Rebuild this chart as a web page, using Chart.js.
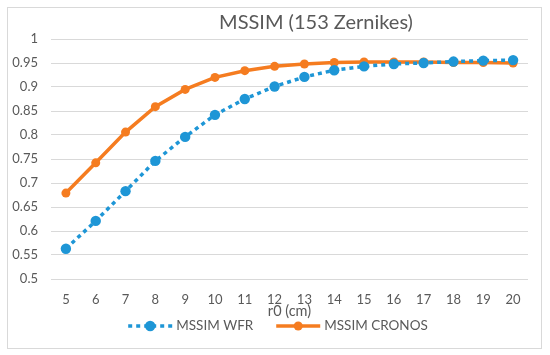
<!DOCTYPE html>
<html>
<head>
<meta charset="utf-8">
<script src="https://cdn.jsdelivr.net/npm/chart.js@4"></script>
<style>
  html, body { margin: 0; padding: 0; background: #ffffff; }
  #wrap { width: 550px; height: 355px; position: relative; }
</style>
</head>
<body>
<div id="wrap"><canvas id="c" width="550" height="355"></canvas></div>
<script>
const titleText = 'MSSIM (153 Zernikes)';
const xTitle = 'r0 (cm)';
const categories = [5, 6, 7, 8, 9, 10, 11, 12, 13, 14, 15, 16, 17, 18, 19, 20];
const seriesNames = ['MSSIM WFR', 'MSSIM CRONOS'];
const wfrValues = [0.563, 0.621, 0.683, 0.746, 0.796, 0.842, 0.875, 0.901, 0.921, 0.935, 0.943, 0.948, 0.950, 0.953, 0.955, 0.956];
const cronosValues = [0.679, 0.742, 0.806, 0.859, 0.895, 0.920, 0.934, 0.943, 0.948, 0.951, 0.952, 0.952, 0.952, 0.951, 0.951, 0.950];
const yTickLabels = ['0.5', '0.55', '0.6', '0.65', '0.7', '0.75', '0.8', '0.85', '0.9', '0.95', '1'];

const BLUE = '#1E96D6';
const ORANGE = '#F57C20';
const TEXT = '#595959';
const GRID = '#D9D9D9';
const FONT = 'Lato, "Open Sans", "DejaVu Sans", sans-serif';

const frameAndText = {
  id: 'frameAndText',
  beforeDraw(chart) {
    const ctx = chart.ctx;
    ctx.save();
    ctx.strokeStyle = GRID;
    ctx.lineWidth = 1;
    ctx.strokeRect(7.5, 7.5, 534, 341);
    ctx.restore();
  },
  afterDraw(chart) {
    const ctx = chart.ctx;
    ctx.save();
    // title
    ctx.fillStyle = TEXT;
    ctx.font = '20px ' + FONT;
    ctx.textAlign = 'center';
    ctx.textBaseline = 'middle';
    ctx.fillText(titleText, 316, 23);
    // legend
    ctx.font = '13.5px ' + FONT;
    ctx.textAlign = 'left';
    const sample = 44, gapText = 4, gapItems = 23;
    const ds = chart.data.datasets;
    const widths = ds.map(d => ctx.measureText(d.label).width);
    let total = 0;
    widths.forEach((w, i) => { total += sample + gapText + w + (i ? gapItems : 0); });
    let x = 278 - total / 2;
    const y = 326;
    ds.forEach((d, i) => {
      ctx.save();
      ctx.strokeStyle = d.borderColor;
      ctx.lineWidth = d.borderWidth;
      ctx.setLineDash(d.borderDash || []);
      ctx.lineCap = 'butt';
      ctx.beginPath();
      ctx.moveTo(x, y);
      ctx.lineTo(x + sample, y);
      ctx.stroke();
      ctx.setLineDash([]);
      ctx.fillStyle = d.pointBackgroundColor;
      ctx.beginPath();
      ctx.arc(x + sample / 2, y, d.pointRadius, 0, Math.PI * 2);
      ctx.fill();
      ctx.restore();
      ctx.fillStyle = TEXT;
      ctx.fillText(d.label, x + sample + gapText, y);
      x += sample + gapText + widths[i] + gapItems;
    });
    ctx.restore();
  }
};

new Chart(document.getElementById('c'), {
  type: 'line',
  data: {
    labels: categories,
    datasets: [
      {
        label: seriesNames[0],
        data: wfrValues,
        borderColor: BLUE,
        backgroundColor: BLUE,
        pointBackgroundColor: BLUE,
        pointBorderColor: BLUE,
        borderWidth: 3.5,
        borderDash: [4, 4],
        borderCapStyle: 'butt',
        pointRadius: 5.2,
        pointBorderWidth: 0,
        tension: 0,
        fill: false
      },
      {
        label: seriesNames[1],
        data: cronosValues,
        borderColor: ORANGE,
        backgroundColor: ORANGE,
        pointBackgroundColor: ORANGE,
        pointBorderColor: ORANGE,
        borderWidth: 3.5,
        pointRadius: 4.5,
        pointBorderWidth: 0,
        tension: 0,
        fill: false
      }
    ]
  },
  options: {
    responsive: false,
    animation: false,
    devicePixelRatio: 1,
    layout: { padding: { left: 0, right: 22, top: 39, bottom: 34 } },
    plugins: {
      legend: { display: false },
      title: { display: false },
      tooltip: { enabled: false }
    },
    scales: {
      x: {
        type: 'category',
        offset: true,
        grid: { display: false },
        border: { display: false },
        ticks: { color: TEXT, font: { family: FONT, size: 13 }, padding: 5, maxRotation: 0, autoSkip: false },
        title: { display: true, text: xTitle, color: TEXT, font: { family: FONT, size: 14.5 }, padding: { top: 0, bottom: 1 } },
        afterFit(scale) { scale.height = 42; }
      },
      y: {
        min: 0.5,
        max: 1,
        grid: { color: GRID, lineWidth: 1, drawTicks: false },
        border: { display: false },
        ticks: {
          stepSize: 0.05,
          color: TEXT,
          font: { family: FONT, size: 13 },
          padding: 13,
          callback(v, i) { return yTickLabels[i]; }
        },
        afterFit(scale) { scale.width = 51; }
      }
    }
  },
  plugins: [frameAndText]
});
</script>
</body>
</html>
